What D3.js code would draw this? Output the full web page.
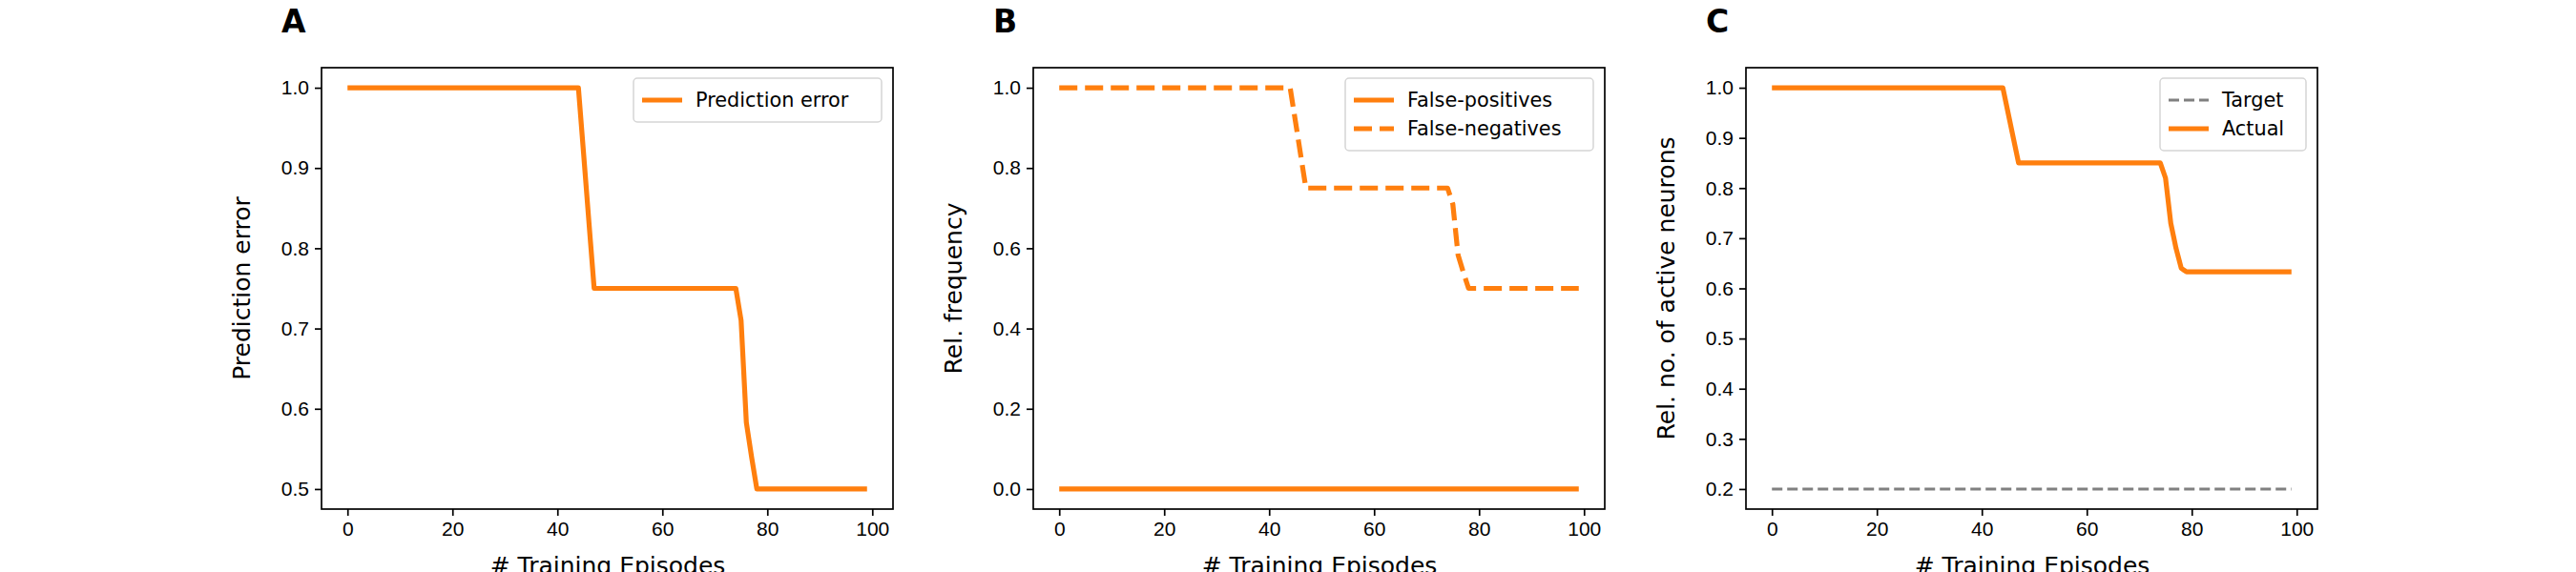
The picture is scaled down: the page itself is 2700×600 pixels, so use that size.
<!DOCTYPE html>
<html><head><meta charset="utf-8">
<script src="https://cdn.jsdelivr.net/npm/d3@7"></script>
<style>body{margin:0;background:#fff}svg{font-family:"DejaVu Sans",sans-serif}</style>
</head><body><svg id="c" width="2700" height="600"></svg>
<script>
const episodes = d3.range(0, 100);
const xTicks = [0, 20, 40, 60, 80, 100];
// Panel A / B step values at key episodes (held constant between)
const errorKeys = [[0,1.0],[44,1.0],[45,0.917],[46,0.833],[47,0.75],[74,0.75],[75,0.71],[76,0.583],[77,0.54],[78,0.5],[99,0.5]];
const activeKeys = [[0,1.0],[44,1.0],[45,0.95],[46,0.90],[47,0.85],[74,0.85],[75,0.82],[76,0.73],[77,0.68],[78,0.64],[79,0.633],[99,0.633]];
function seriesFrom(keys){ // pick listed values; hold last listed value for unlisted episodes
  const m = new Map(keys); let last = keys[0][1];
  return episodes.map(e => { if (m.has(e)) last = m.get(e); return last; });
}
const predictionError = seriesFrom(errorKeys);
const falseNegatives = seriesFrom(errorKeys);
const falsePositives = episodes.map(() => 0);
const activeActual = seriesFrom(activeKeys);
const activeTarget = episodes.map(() => 0.2);
const yTicksA = [0.5,0.6,0.7,0.8,0.9,1.0];
const yTicksB = [0.0,0.2,0.4,0.6,0.8,1.0];
const yTicksC = [0.2,0.3,0.4,0.5,0.6,0.7,0.8,0.9,1.0];

const svg = d3.select("#c");
const ORANGE = "#ff7f0e";
const plotTop = 71, plotBottom = 534;

function panel(o){
  const g = svg.append("g");
  const x = d3.scaleLinear().domain([-4.95, 103.95]).range([o.left, o.left + 599]);
  const y = d3.scaleLinear().domain(o.ydom).range([plotBottom, plotTop]);
  o.series.forEach(s => {
    g.append("path").datum(s.values)
      .attr("d", d3.line().x((d,i)=>x(episodes[i])).y(d=>y(d)))
      .attr("fill","none").attr("stroke", s.color).attr("stroke-width", s.w)
      .attr("stroke-dasharray", s.dash || null).attr("stroke-linejoin","round");
  });
  const xa = g.append("g").attr("transform",`translate(0,${plotBottom})`)
    .call(d3.axisBottom(x).tickValues(xTicks).tickFormat(d3.format("d")).tickSize(7).tickSizeOuter(0).tickPadding(6));
  const ya = g.append("g").attr("transform",`translate(${o.left},0)`)
    .call(d3.axisLeft(y).tickValues(o.yticks).tickFormat(d3.format(".1f")).tickSize(7).tickSizeOuter(0).tickPadding(6));
  [xa, ya].forEach(a => { a.select(".domain").remove();
    a.selectAll("text").attr("font-size", 21).attr("fill","#000");
    a.selectAll("line").attr("stroke","#000").attr("stroke-width",1.7); });
  g.append("rect").attr("x", o.left).attr("y", plotTop).attr("width", 599).attr("height", plotBottom-plotTop)
    .attr("fill","none").attr("stroke","#000").attr("stroke-width",1.7);
  g.append("text").attr("transform",`translate(${o.left-75},${(plotTop+plotBottom)/2}) rotate(-90)`)
    .attr("text-anchor","middle").attr("font-size",25).text(o.ylabel);
  g.append("text").attr("x", o.left+300).attr("y", 602).attr("text-anchor","middle").attr("font-size",25).text("# Training Episodes");
  g.append("text").attr("x", o.left-42).attr("y", 34).attr("font-size",33).attr("font-weight","bold").text(o.letter);
  const lw = o.legendW, lx = o.left + 599 - 12 - lw, ly = plotTop + 11;
  const lh = 16 + o.series.length*30;
  g.append("rect").attr("x",lx).attr("y",ly).attr("width",lw).attr("height",lh).attr("rx",4)
    .attr("fill","#fff").attr("fill-opacity",0.8).attr("stroke","#d5d5d5").attr("stroke-width",1.5);
  o.series.filter(s=>s.label).forEach((s,i) => {
    const cy = ly + 23 + i*30;
    g.append("line").attr("x1",lx+9).attr("x2",lx+51).attr("y1",cy).attr("y2",cy)
      .attr("stroke",s.color).attr("stroke-width",s.w).attr("stroke-dasharray",s.dash||null);
    g.append("text").attr("x",lx+65).attr("y",cy+7).attr("font-size",20.8).text(s.label);
  });
}
panel({left:337, letter:"A", ydom:[0.475,1.025], yticks:yTicksA, ylabel:"Prediction error", legendW:260,
  series:[{values:predictionError,color:ORANGE,w:5.2,label:"Prediction error"}]});
panel({left:1083, letter:"B", ydom:[-0.05,1.05], yticks:yTicksB, ylabel:"Rel. frequency", legendW:260,
  series:[{values:falsePositives,color:ORANGE,w:5.2,label:"False-positives"},
          {values:falseNegatives,color:ORANGE,w:5.2,dash:"19,8",label:"False-negatives"}]});
panel({left:1830, letter:"C", ydom:[0.16,1.04], yticks:yTicksC, ylabel:"Rel. no. of active neurons", legendW:153,
  series:[{values:activeTarget,color:"#808080",w:3,dash:"11,5",label:"Target"},
          {values:activeActual,color:ORANGE,w:5.2,label:"Actual"}]});
</script></body></html>
